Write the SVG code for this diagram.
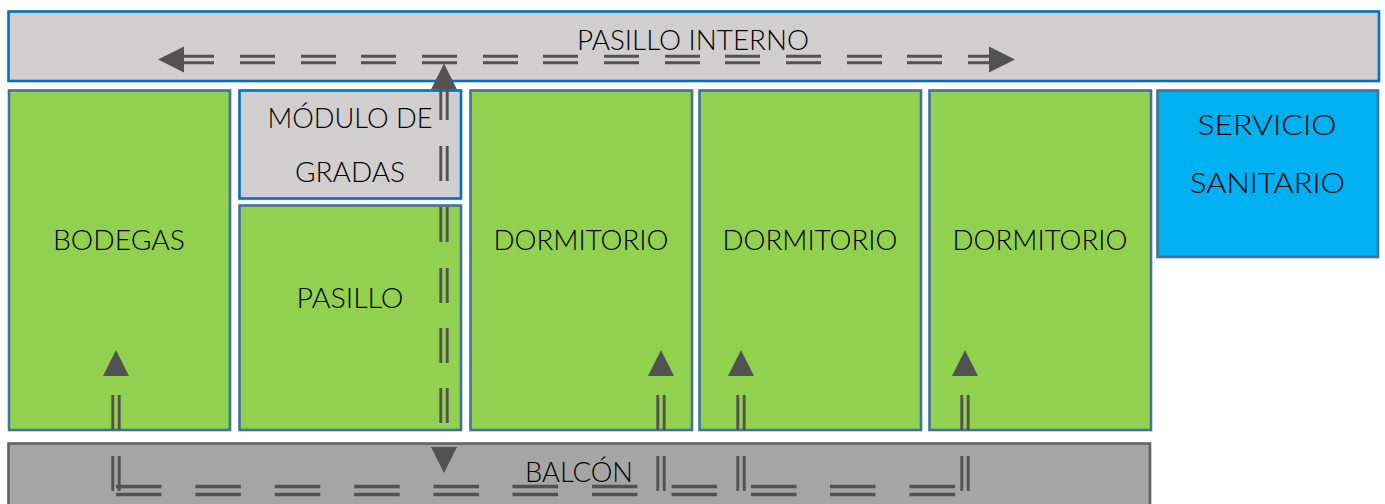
<svg xmlns="http://www.w3.org/2000/svg" width="1385" height="504" viewBox="0 0 1385 504">
<defs>
<style>
.room{stroke-width:2.6}
.green{fill:#92d050;stroke:#41719c}
.grey{fill:#d0cece;stroke:#0070c0}
.sky{fill:#00b0f0;stroke:#41719c}
.dark{fill:#a5a5a5;stroke:#636363}
text{font-family:"Lato","Open Sans","Liberation Sans",sans-serif;font-size:27px;fill:#000;text-anchor:middle;font-weight:300}
.d{stroke:#525252;stroke-width:2.9;fill:none}
.b{stroke:#525252;stroke-width:3.4;fill:none}
.h{fill:#525252;stroke:none}
</style>
<path id="up" class="h" d="M0 0L13 26H-13Z"/>
<path id="v" class="d" d="M-3.200 0V35M3.200 0V35"/>
<path id="hl" class="d" d="M0 0H35M0 6.400H35"/>
<path id="hb" class="b" d="M0 0H45.500M0 8H45.500"/>
</defs>
<g id="pasillo-interno"><rect class="room grey" x="8.500" y="11.500" width="1370.500" height="69.500"/><text x="693" y="50" textLength="232" lengthAdjust="spacingAndGlyphs">PASILLO INTERNO</text></g>
<g id="bodegas"><rect class="room green" x="9" y="90.500" width="221" height="339.500"/><text x="119" y="250" textLength="132" lengthAdjust="spacingAndGlyphs">BODEGAS</text></g>
<g id="modulo-gradas"><rect class="room grey" x="239.500" y="90.500" width="221.500" height="108"/><text x="350" y="128" textLength="165" lengthAdjust="spacingAndGlyphs">MÓDULO DE</text><text x="350" y="182" textLength="110" lengthAdjust="spacingAndGlyphs">GRADAS</text></g>
<g id="pasillo"><rect class="room green" x="239.500" y="205.500" width="221.500" height="224.500"/><text x="350" y="308" textLength="107" lengthAdjust="spacingAndGlyphs">PASILLO</text></g>
<g id="dormitorio-1"><rect class="room green" x="470.500" y="90.500" width="221.500" height="339.500"/><text x="581" y="250" textLength="175" lengthAdjust="spacingAndGlyphs">DORMITORIO</text></g>
<g id="dormitorio-2"><rect class="room green" x="699.500" y="90.500" width="221.500" height="339.500"/><text x="810" y="250" textLength="175" lengthAdjust="spacingAndGlyphs">DORMITORIO</text></g>
<g id="dormitorio-3"><rect class="room green" x="929.500" y="90.500" width="221.500" height="339.500"/><text x="1040" y="250" textLength="175" lengthAdjust="spacingAndGlyphs">DORMITORIO</text></g>
<g id="servicio-sanitario"><rect class="room sky" x="1157.500" y="90.500" width="220.500" height="166.500"/><text x="1267" y="135" textLength="139" lengthAdjust="spacingAndGlyphs">SERVICIO</text><text x="1267.500" y="193" textLength="155" lengthAdjust="spacingAndGlyphs">SANITARIO</text></g>
<g id="balcon"><rect class="room dark" x="8.500" y="443.500" width="1141.500" height="70"/><text x="579" y="482" textLength="108" lengthAdjust="spacingAndGlyphs">BALCÓN</text></g>
<g id="connectors">
<path class="h" d="M158 59.500L184 46.500V72.500Z"/>
<path class="d" d="M180 56.300H214M180 62.700H214M968 56.300H995M968 62.700H995"/>
<path class="h" d="M1015 59.500L989 46.500V72.500Z"/>
<use href="#hl" x="240" y="56.300"/><use href="#hl" x="301" y="56.300"/><use href="#hl" x="361" y="56.300"/><use href="#hl" x="422" y="56.300"/><use href="#hl" x="483" y="56.300"/><use href="#hl" x="543" y="56.300"/><use href="#hl" x="604" y="56.300"/><use href="#hl" x="665" y="56.300"/><use href="#hl" x="725" y="56.300"/><use href="#hl" x="786" y="56.300"/><use href="#hl" x="847" y="56.300"/><use href="#hl" x="907" y="56.300"/>
<use href="#up" x="444" y="63.500"/>
<path class="d" d="M440.800 85V120M447.200 85V120"/>
<use href="#v" x="444" y="146"/><use href="#v" x="444" y="207"/><use href="#v" x="444" y="268"/><use href="#v" x="444" y="328"/><use href="#v" x="444" y="388"/>
<path class="h" d="M444 473L431 447H457Z"/>
<use href="#up" x="116" y="350"/><use href="#up" x="661" y="350"/><use href="#up" x="741" y="350"/><use href="#up" x="965" y="350"/>
<use href="#v" x="116" y="395"/><use href="#v" x="661" y="395"/><use href="#v" x="741" y="395"/><use href="#v" x="965" y="395"/>
<use href="#v" x="116" y="456"/><use href="#v" x="661" y="456"/><use href="#v" x="741" y="456"/><use href="#v" x="965" y="456"/>
<use href="#hb" x="116" y="486.500"/><use href="#hb" x="195.400" y="486.500"/><use href="#hb" x="274.800" y="486.500"/><use href="#hb" x="354.200" y="486.500"/><use href="#hb" x="433.500" y="486.500"/><use href="#hb" x="512.500" y="486.500"/><use href="#hb" x="592" y="486.500"/><use href="#hb" x="671.500" y="486.500"/><use href="#hb" x="751" y="486.500"/><use href="#hb" x="830" y="486.500"/><use href="#hb" x="909.500" y="486.500"/>
</g>
</svg>
